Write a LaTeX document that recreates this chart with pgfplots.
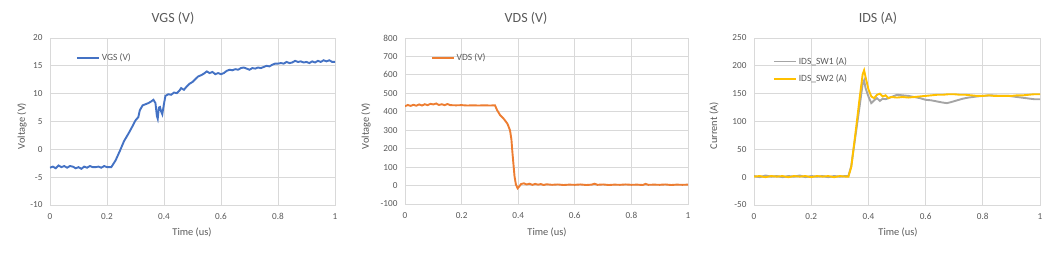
\documentclass[border=0pt]{standalone}
\usepackage{fontspec}
\setmainfont{Carlito}
\usepackage{pgfplots}
\pgfplotsset{compat=1.18}
\definecolor{cblue}{HTML}{4472C4}
\definecolor{corange}{HTML}{ED7D31}
\definecolor{cgrey}{HTML}{A5A5A5}
\definecolor{cgold}{HTML}{FFC000}
\definecolor{gridc}{HTML}{D9D9D9}
\definecolor{txt}{HTML}{595959}
\pgfplotsset{
  excel/.style={
    scale only axis,
    xmin=0, xmax=1,
    xtick={0,0.2,0.4,0.6,0.8,1},
    grid=major,
    major grid style={gridc, line width=0.8pt},
    axis line style={gridc, line width=0.8pt},
    major tick length=0pt,
    tick label style={font=\fontsize{9.2}{10}\selectfont, text=txt},
    /pgf/number format/assume math mode=true,
    yticklabel style={xshift=-4pt},
    xticklabel style={yshift=-5pt},
    legend style={draw=none, fill=none, font=\fontsize{9.5}{10}\selectfont, text=txt, cells={anchor=west}},
    legend image code/.code={\draw[#1] (0pt,0pt) -- (22pt,0pt);},
    legend cell align=left,
  }
}
\begin{document}
\begin{tikzpicture}
\path[use as bounding box] (0,0) rectangle (1055pt,252pt);
% ---------- VGS ----------
\begin{axis}[excel, at={(50pt,47pt)}, anchor=south west, width=285pt, height=167pt,
  ymin=-10, ymax=20, ytick={-10,-5,0,5,10,15,20},
  legend style={at={(0.08,0.93)}, anchor=north west}]
\addplot[color=cblue, line width=1.9pt] coordinates {
(0,-3.3)(0.01,-3.1)(0.02,-3.4)(0.03,-2.9)(0.04,-3.2)(0.05,-3.0)(0.06,-3.3)(0.07,-3.0)(0.08,-3.1)(0.09,-3.4)
(0.10,-3.2)(0.11,-3.5)(0.12,-3.1)(0.13,-3.3)(0.14,-3.0)(0.15,-3.2)(0.16,-3.2)(0.17,-3.1)(0.18,-3.3)(0.19,-3.0)
(0.20,-3.2)(0.215,-3.2)(0.23,-2.0)(0.245,-0.3)(0.26,1.5)(0.275,2.8)(0.29,4.2)(0.30,5.2)(0.31,5.8)(0.315,7.0)
(0.325,7.9)(0.335,8.1)(0.345,8.3)(0.355,8.6)(0.363,8.9)(0.37,8.3)(0.375,6.0)(0.378,5.5)(0.382,7.5)(0.386,7.6)
(0.39,6.8)(0.394,6.3)(0.40,8.2)(0.405,9.6)(0.415,9.9)(0.425,9.8)(0.435,10.2)(0.445,10.1)(0.455,10.6)(0.46,11.0)
(0.47,10.7)(0.48,11.3)(0.49,11.8)(0.50,12.1)(0.51,12.6)(0.52,13.1)(0.53,13.3)(0.54,13.6)(0.55,14.0)(0.56,13.7)
(0.57,13.9)(0.58,13.5)(0.59,13.7)(0.60,13.5)(0.61,13.7)(0.62,14.1)(0.63,14.3)(0.64,14.2)(0.65,14.4)(0.66,14.3)
(0.67,14.6)(0.68,14.7)(0.69,14.5)(0.70,14.3)(0.71,14.6)(0.72,14.5)(0.73,14.7)(0.74,14.6)(0.75,14.8)(0.76,15.0)
(0.77,14.9)(0.78,15.2)(0.79,15.4)(0.80,15.4)(0.81,15.5)(0.82,15.4)(0.83,15.7)(0.84,15.5)(0.85,15.6)(0.86,15.9)
(0.87,15.7)(0.88,15.8)(0.89,15.6)(0.90,15.7)(0.91,15.5)(0.92,15.8)(0.93,15.6)(0.94,15.9)(0.95,15.7)(0.96,16.0)
(0.97,15.8)(0.98,16.0)(0.99,15.7)(1.00,15.7)};
\addlegendentry{VGS (V)}
\end{axis}
% ---------- VDS ----------
\begin{axis}[excel, at={(405pt,48pt)}, anchor=south west, width=283pt, height=166pt,
  ymin=-100, ymax=800, ytick={-100,0,100,...,800},
  legend style={at={(0.08,0.93)}, anchor=north west}]
\addplot[color=corange, line width=1.9pt] coordinates {
(0,430)(0.01,437)(0.02,432)(0.03,438)(0.04,433)(0.05,440)(0.06,434)(0.07,441)(0.08,436)(0.09,443)
(0.10,440)(0.11,445)(0.12,437)(0.13,441)(0.14,436)(0.15,442)(0.16,436)(0.18,435)(0.20,436)(0.22,434)
(0.24,435)(0.26,434)(0.28,435)(0.30,434)(0.318,435)(0.325,410)(0.336,382)(0.35,360)(0.362,335)(0.371,300)
(0.376,250)(0.379,190)(0.383,120)(0.387,50)(0.392,5)(0.398,-15)(0.405,-2)(0.41,8)(0.42,12)(0.43,6)
(0.44,10)(0.45,4)(0.46,9)(0.47,5)(0.48,8)(0.49,3)(0.50,7)(0.52,4)(0.54,6)(0.56,3)
(0.58,5)(0.60,4)(0.62,6)(0.64,3)(0.66,5)(0.67,10)(0.68,4)(0.70,6)(0.72,3)(0.74,5)
(0.76,4)(0.78,6)(0.80,4)(0.82,5)(0.84,3)(0.85,9)(0.86,4)(0.88,5)(0.90,4)(0.92,6)
(0.94,3)(0.96,5)(0.98,4)(1.0,5)};
\addlegendentry{VDS (V)}
\end{axis}
% ---------- IDS ----------
\begin{axis}[excel, at={(754pt,47pt)}, anchor=south west, width=286pt, height=167pt,
  ymin=-50, ymax=250, ytick={-50,0,50,...,250},
  legend style={at={(0.055,0.91)}, anchor=north west, row sep=5pt}]
\addlegendimage{legend image code/.code={\draw[cgrey, line width=1.9pt] (0pt,0pt) -- (22pt,0pt);}}
\addlegendentry{IDS\_SW1 (A)}
\addlegendimage{legend image code/.code={\draw[cgold, line width=1.9pt] (0pt,0pt) -- (22pt,0pt);}}
\addlegendentry{IDS\_SW2 (A)}
\addplot[color=cgrey, line width=1.9pt, forget plot] coordinates {
(0,2)(0.02,0)(0.04,3)(0.06,1)(0.08,2)(0.10,0)(0.12,2)(0.14,1)(0.16,3)(0.18,0)
(0.20,2)(0.22,1)(0.24,2)(0.26,0)(0.28,2)(0.30,1)(0.32,2)(0.33,2)(0.34,20)(0.355,75)
(0.37,130)(0.38,168)(0.385,174)(0.39,160)(0.40,145)(0.41,133)(0.42,138)(0.43,142)(0.44,137)(0.45,141)
(0.46,140)(0.48,144)(0.50,148)(0.52,147)(0.54,146)(0.56,144)(0.58,142)(0.60,139)(0.62,138)(0.64,136)
(0.66,134)(0.675,133)(0.69,135)(0.71,138)(0.73,141)(0.75,143)(0.78,145)(0.80,146)(0.83,147)(0.86,146)
(0.89,146)(0.92,144)(0.95,142)(0.98,140)(1.0,140)};
\addplot[color=cgold, line width=1.9pt, forget plot] coordinates {
(0,1)(0.02,2)(0.04,0)(0.06,2)(0.08,1)(0.10,2)(0.12,0)(0.14,2)(0.16,1)(0.18,2)
(0.20,0)(0.22,2)(0.24,1)(0.26,2)(0.28,0)(0.30,2)(0.32,1)(0.33,1)(0.34,18)(0.355,80)
(0.37,145)(0.38,185)(0.385,192)(0.39,180)(0.40,158)(0.41,145)(0.42,142)(0.43,148)(0.44,150)(0.45,145)
(0.46,147)(0.47,142)(0.48,144)(0.50,143)(0.52,144)(0.54,143)(0.56,144)(0.58,145)(0.60,146)(0.62,147)
(0.64,148)(0.66,148)(0.68,149)(0.70,149)(0.72,148)(0.74,148)(0.76,147)(0.78,146)(0.80,146)(0.82,147)
(0.84,146)(0.86,146)(0.88,146)(0.90,146)(0.92,147)(0.94,147)(0.96,148)(0.98,149)(1.0,149)};
\end{axis}
% ---------- titles and labels ----------
\begin{scope}[every node/.style={text=txt}]
\node[font=\fontsize{14}{16}\selectfont] at (173pt,234pt) {VGS (V)};
\node[font=\fontsize{14}{16}\selectfont] at (526pt,234pt) {VDS (V)};
\node[font=\fontsize{14}{16}\selectfont] at (878pt,234pt) {IDS (A)};
\node[font=\fontsize{10.4}{12}\selectfont] at (192pt,20pt) {Time (us)};
\node[font=\fontsize{10.4}{12}\selectfont] at (547pt,20pt) {Time (us)};
\node[font=\fontsize{10.4}{12}\selectfont] at (898pt,20pt) {Time (us)};
\node[font=\fontsize{10.4}{12}\selectfont, rotate=90] at (22pt,126pt) {Voltage (V)};
\node[font=\fontsize{10.4}{12}\selectfont, rotate=90] at (366pt,126pt) {Voltage (V)};
\node[font=\fontsize{10.4}{12}\selectfont, rotate=90] at (714pt,126pt) {Current (A)};
\end{scope}
\end{tikzpicture}
\end{document}
